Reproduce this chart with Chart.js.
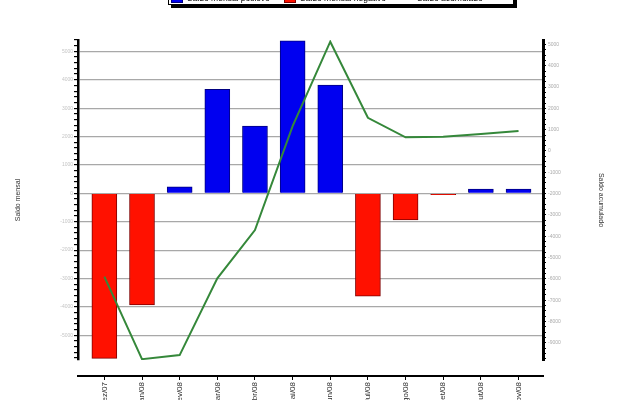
<!DOCTYPE html>
<html><head><meta charset="utf-8">
<script src="https://cdn.jsdelivr.net/npm/chart.js@4"></script>
<style>
html,body{margin:0;padding:0;background:#fff;overflow:hidden}
#wrap{position:relative;width:630px;height:400px;overflow:hidden}
#legend{position:absolute;left:168px;top:-9px;width:344px;height:12px;border:1px solid #000;background:#fff;box-shadow:3px 3px 0 #000;font:8.5px "Liberation Sans",Arial,sans-serif;color:#000;white-space:nowrap;z-index:2}
.it{position:absolute;top:0px;line-height:12px}
.sw{display:inline-block;width:12px;height:8px;vertical-align:middle;margin-right:4px;box-sizing:border-box;border:1px solid}
.ln{display:inline-block;width:12px;height:2px;vertical-align:middle;margin-right:4px;background:#35883a}
</style></head>
<body>
<div id="wrap">
<div id="legend">
 <span class="it" style="left:2px"><span class="sw" style="background:#0000f0;border-color:#000080"></span>Saldo mensal positivo</span>
 <span class="it" style="left:115px"><span class="sw" style="background:#ff1100;border-color:#800000"></span>Saldo mensal negativo</span>
 <span class="it" style="left:232px"><span class="ln"></span>Saldo acumulado</span>
</div>
<canvas id="c" width="630" height="400"></canvas>
</div>
<script>
const labels = ['Dez/07','Jan/08','Fev/08','Mar/08','Abr/08','Mai/08','Jun/08','Jul/08','Ago/08','Set/08','Out/08','Nov/08'];
const saldoPositivo = [null,null,230,3660,2370,5370,3810,null,null,null,150,150];
const saldoNegativo = [-5810,-3930,null,null,null,null,null,-3620,-940,-50,null,null];
const saldoAcumulado = [-5900,-9770,-9580,-5980,-3710,1170,5130,1560,640,670,800,940];
const leftMajor = [-5000,-4000,-3000,-2000,-1000,0,1000,2000,3000,4000,5000];
const rightMajor = [-9000,-8000,-7000,-6000,-5000,-4000,-3000,-2000,-1000,0,1000,2000,3000,4000,5000];
const yRange = [-5870, 5400];
const y2Range = [-9810, 5210];
const xRange = [-0.70, 11.65];

const toXY = arr => arr.map((v,i)=> v===null?null:{x:i,y:v}).filter(Boolean);
const minorList = (lo, hi, step) => { const r=[]; for(let v=lo; v<=hi; v+=step) r.push({value:v}); return r; };
const FONT = '"Liberation Sans", Arial, sans-serif';

new Chart(document.getElementById('c'), {
  data: {
    datasets: [
      {type:'line', label:'Saldo acumulado', data: toXY(saldoAcumulado), xAxisID:'x', yAxisID:'y2',
       borderColor:'#35883a', borderWidth:2, pointRadius:0, fill:false, tension:0, order:0},
      {type:'bar', label:'Saldo mensal positivo', data: toXY(saldoPositivo), xAxisID:'x', yAxisID:'y',
       backgroundColor:'#0000f0', borderColor:'#000080', borderWidth:1, barThickness:25, grouped:false, order:1},
      {type:'bar', label:'Saldo mensal negativo', data: toXY(saldoNegativo), xAxisID:'x', yAxisID:'y',
       backgroundColor:'#ff1100', borderColor:'#800000', borderWidth:1, barThickness:25, grouped:false, order:1}
    ]
  },
  options: {
    responsive:false, animation:false, devicePixelRatio:1,
    layout:{padding:{top:40,left:0,right:0,bottom:0}},
    plugins:{legend:{display:false}, tooltip:{enabled:false}},
    scales:{
      xs:{type:'linear', position:'bottom', weight:0, offset:false, min:xRange[0], max:xRange[1],
          ticks:{display:false}, grid:{display:false}, border:{display:false},
          afterFit(s){ s.height = 16; }},
      x:{type:'linear', position:'bottom', weight:1, offset:false, min:xRange[0], max:xRange[1],
         afterBuildTicks(s){ s.ticks = labels.map((l,i)=>({value:i})); },
         ticks:{autoSkip:false, minRotation:90, maxRotation:90, padding:2,
                font:{family:FONT, size:8}, color:'#333',
                callback:(v)=> labels[Math.round(v)] ?? ''},
         grid:{offset:false, drawOnChartArea:false, drawTicks:true, tickLength:4, tickColor:'#000'},
         border:{display:true, color:'#000', width:2},
         afterFit(s){ s.height = 24; }},
      y:{type:'linear', position:'left', min:yRange[0], max:yRange[1],
         afterBuildTicks(s){ s.ticks = minorList(-5800, 5400, 200); },
         ticks:{autoSkip:false, padding:1, font:{family:FONT, size:5}, color:'#c4c4c4',
                callback:(v)=> leftMajor.includes(v) ? String(v) : ''},
         grid:{color:(c)=> (c.tick && leftMajor.includes(c.tick.value)) ? '#a8a8a8' : 'rgba(0,0,0,0)',
               lineWidth:1.2, tickColor:'#000', tickLength:4},
         border:{display:true, color:'#000', width:2.5},
         title:{display:true, text:'Saldo mensal', font:{family:FONT, size:7}, color:'#333', padding:{top:14,bottom:0}},
         afterFit(s){ s.width = 78; }},
      y2:{type:'linear', position:'right', min:y2Range[0], max:y2Range[1],
         afterBuildTicks(s){ s.ticks = minorList(-9750, 5000, 250); },
         ticks:{autoSkip:false, padding:2, font:{family:FONT, size:5}, color:'#aaa',
                callback:(v)=> rightMajor.includes(v) ? String(v) : ''},
         grid:{drawOnChartArea:false, tickColor:'#000', tickLength:3},
         border:{display:true, color:'#000', width:3},
         title:{display:true, text:'Saldo acumulado', font:{family:FONT, size:7}, color:'#333', padding:{top:25,bottom:0}},
         afterFit(s){ s.width = 87; }}
    }
  }
});
</script>
</body></html>
